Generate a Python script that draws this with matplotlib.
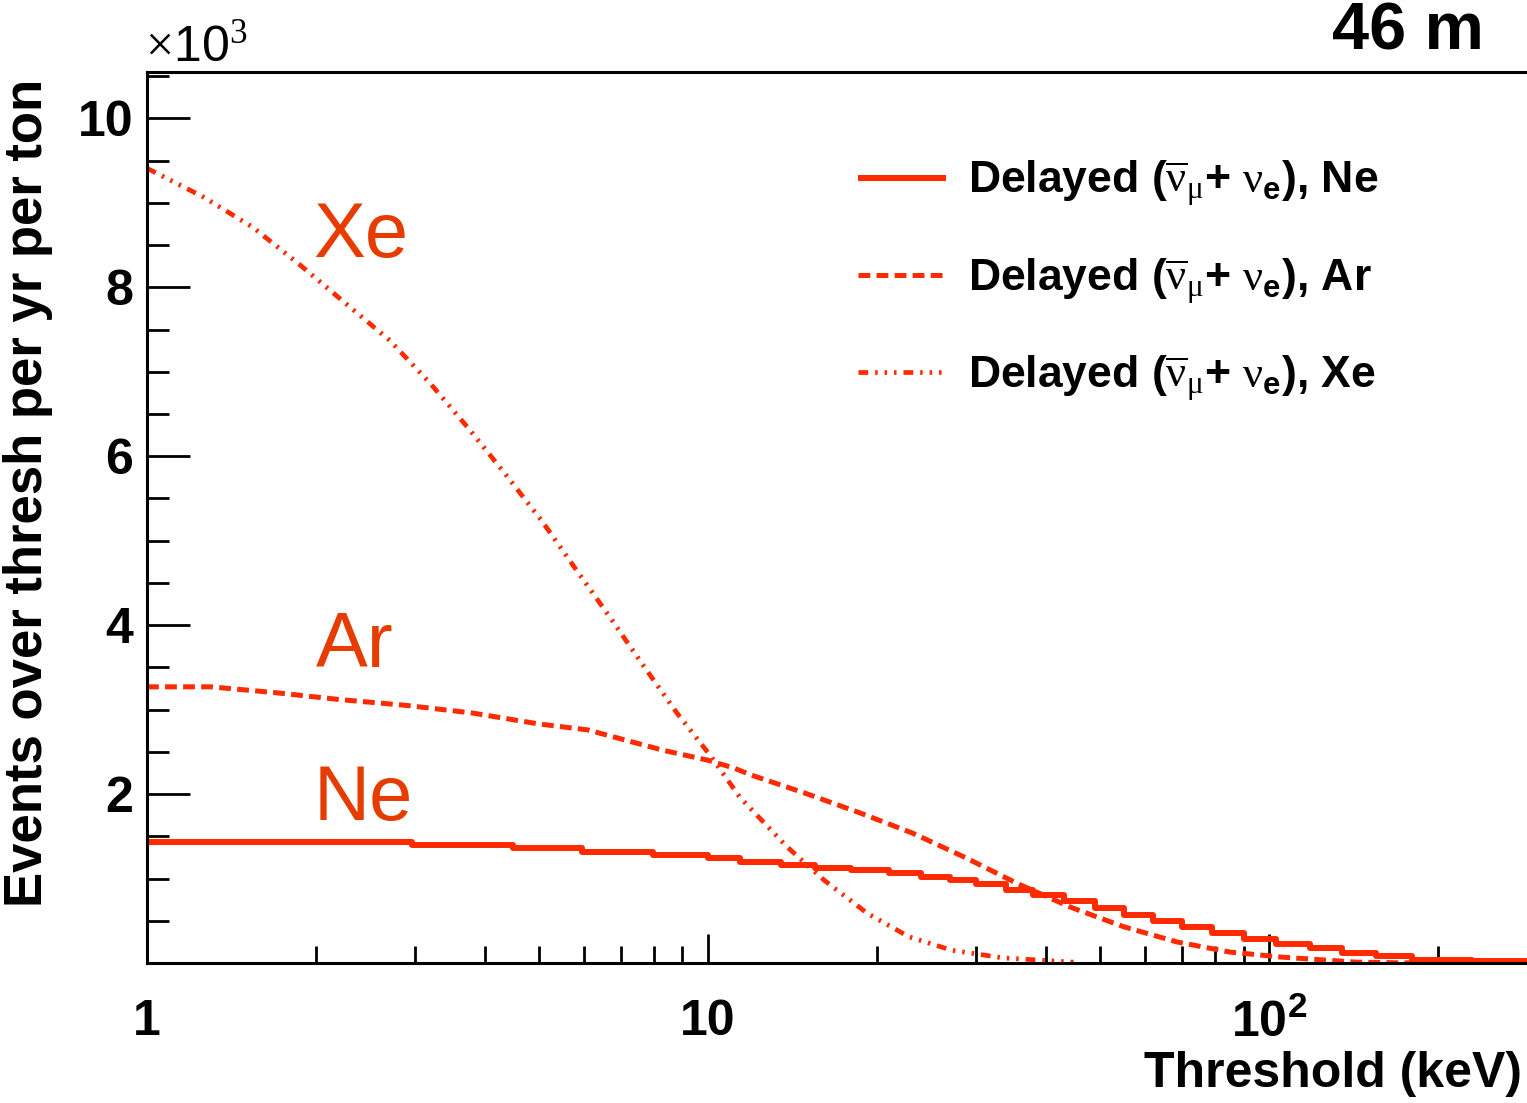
import numpy as np
import matplotlib
matplotlib.use("Agg")
import matplotlib.pyplot as plt
from matplotlib.ticker import FixedLocator, MultipleLocator, NullFormatter, FixedFormatter

# (x in keV, y in units of 1e3 events)
ne_x = [1.0, 2.97, 4.49, 5.97, 7.96, 10.0, 11.4, 13.5, 15.5, 18.0, 21.0, 24.0, 27.0, 30.0, 34.0,
        38.0, 43.0, 49.0, 55.0, 62.0, 70.0, 79.0, 90.0, 103.0, 118.0, 135.0, 155.0, 180.0, 230.0, 290.0]
ne_y = [1.435, 1.40, 1.36, 1.32, 1.28, 1.24, 1.20, 1.16, 1.13, 1.10, 1.06, 1.02, 0.98, 0.93, 0.87,
        0.80, 0.73, 0.65, 0.57, 0.50, 0.43, 0.36, 0.29, 0.23, 0.18, 0.12, 0.08, 0.04, 0.02, 0.02]

ar_x = [1.0, 1.3, 1.7, 2.2, 2.9, 3.8, 5.0, 6.1, 8.3, 10.0, 11.1, 12.0, 14.9, 18.6, 23.1, 28.7,
        35.6, 44.3, 55.0, 68.4, 85.0, 105.0, 143.0, 180.0]
ar_y = [3.27, 3.27, 3.20, 3.12, 3.05, 2.96, 2.83, 2.76, 2.52, 2.40, 2.31, 2.22, 2.01, 1.78, 1.54, 1.25,
        0.94, 0.66, 0.43, 0.25, 0.13, 0.07, 0.01, 0.0]

xe_x = [1.0, 1.26, 1.545, 1.87, 2.25, 2.71, 3.2, 3.73, 4.35, 5.06, 5.80, 6.69, 7.65, 8.80, 10.08,
        11.4, 13.8, 16.1, 19.2, 22.8, 27.2, 33.6, 44.8]
xe_y = [9.41, 9.07, 8.71, 8.27, 7.82, 7.37, 6.86, 6.34, 5.79, 5.23, 4.67, 4.09, 3.53, 2.96, 2.46,
        1.96, 1.38, 0.98, 0.59, 0.31, 0.15, 0.06, 0.01]

legend_labels = [r'Delayed ($\mathrm{\overline{\nu}_{\mu}}$+ $\mathrm{\nu}_{e}$), Ne',
                 r'Delayed ($\mathrm{\overline{\nu}_{\mu}}$+ $\mathrm{\nu}_{e}$), Ar',
                 r'Delayed ($\mathrm{\overline{\nu}_{\mu}}$+ $\mathrm{\nu}_{e}$), Xe']
curve_names = ['Ne', 'Ar', 'Xe']

plt.rcParams['font.family'] = ['Liberation Sans', 'DejaVu Sans']
plt.rcParams['mathtext.fontset'] = 'custom'
plt.rcParams['mathtext.rm'] = 'Liberation Serif'
plt.rcParams['mathtext.it'] = 'Liberation Sans:bold'
plt.rcParams['mathtext.bf'] = 'Liberation Sans:bold'
plt.rcParams['lines.scale_dashes'] = False

line_col = '#ff2a00'
text_col = '#e63c00'

fig = plt.figure(figsize=(15.27, 11.03), dpi=100)
ax = fig.add_axes([147 / 1527, 140 / 1103, 1 - 147 / 1527, 891 / 1103])

l_ne, = ax.plot(ne_x, ne_y, drawstyle='steps-post', color=line_col, lw=4.3, solid_capstyle='butt')
l_ar, = ax.plot(ar_x, ar_y, color=line_col, lw=3.6, linestyle=(0, (8.5, 4.5)))
l_xe, = ax.plot(xe_x, xe_y, color=line_col, lw=3.4,
                linestyle=(0, (7.0, 5.0, 1.8, 5.0, 1.8, 5.0, 1.8, 5.0)))

ax.set_xscale('log')
ax.set_xlim(1, 288)
ax.set_ylim(0, 10.55)

for side in ['left', 'bottom', 'top']:
    ax.spines[side].set_linewidth(2.2)
ax.spines['right'].set_visible(False)

ax.xaxis.set_major_locator(FixedLocator([1, 10, 100]))
ax.xaxis.set_major_formatter(FixedFormatter(['1', '10', r'10$^{\mathbf{2}}$']))
ax.xaxis.set_minor_locator(FixedLocator([2, 3, 4, 5, 6, 7, 8, 9, 20, 30, 40, 50, 60, 70, 80, 90, 200]))
ax.xaxis.set_minor_formatter(NullFormatter())
ax.yaxis.set_major_locator(FixedLocator([2, 4, 6, 8, 10]))
ax.yaxis.set_minor_locator(MultipleLocator(0.5))

ax.tick_params(axis='x', which='major', direction='in', length=21, width=2, pad=26,
               labelsize=36)
ax.tick_params(axis='x', which='minor', direction='in', length=12, width=2)
ax.tick_params(axis='y', which='major', direction='in', length=31, width=2, pad=10,
               labelsize=36)
ax.tick_params(axis='y', which='minor', direction='in', length=16, width=2)
for lab in ax.get_xticklabels() + ax.get_yticklabels():
    lab.set_fontweight('bold')

ax.set_xlabel('Threshold (keV)', fontsize=36, fontweight='bold', ha='right', va='top')
ax.xaxis.set_label_coords(0.9965, -0.099)
ax.set_ylabel('Events over thresh per yr per ton', fontsize=38, fontweight='bold')
ax.yaxis.set_label_coords(-0.068, 0.5275)

fig.text(145 / 1527, 1 - 62 / 1103, r'$\times$10$^{3}$', fontsize=36, ha='left', va='baseline')
fig.text(1484 / 1527, 1 - 49 / 1103, '46 m', fontsize=48, fontweight='bold', ha='right',
         va='baseline')

# curve names next to the lines
name_pos = [(1.98, 1.69), (2.0, 3.50), (1.98, 8.36)]
for (nx, ny), name in zip(name_pos, curve_names):
    ax.text(nx, ny, name, color=text_col, fontsize=56, ha='left', va='baseline')

leg = ax.legend([l_ne, l_ar, l_xe], legend_labels, loc='upper left',
                bbox_to_anchor=(0.502, 0.9226), frameon=False, fontsize=32,
                handlelength=1.98, handletextpad=0.5, labelspacing=1.07, borderaxespad=0)
for t in leg.get_texts():
    t.set_fontweight('bold')

fig.savefig('out.png', dpi=100)
